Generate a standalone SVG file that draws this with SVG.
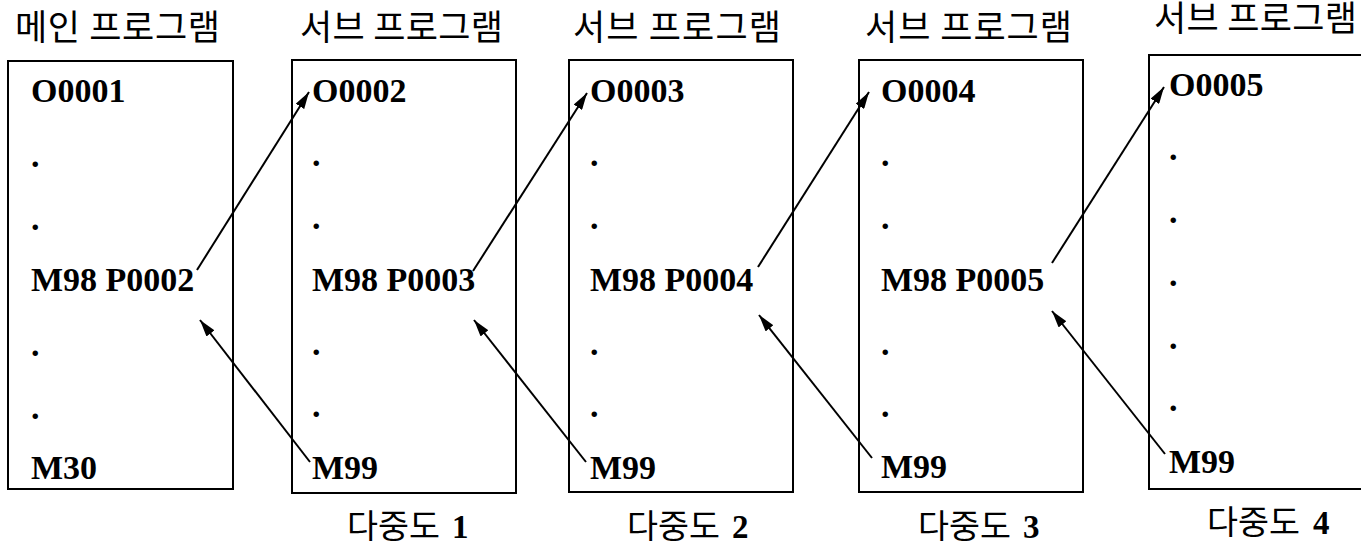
<svg xmlns="http://www.w3.org/2000/svg" width="1361" height="546" viewBox="0 0 1361 546">
<style>
.box{fill:#fff;stroke:#000;stroke-width:2}
.code{font-family:"Liberation Serif","Times New Roman",serif;font-weight:bold;font-size:34px;fill:#000}
.hdr{font-family:"Noto Sans CJK KR","Noto Sans",sans-serif;font-size:35px;fill:#000}
.lbl{font-family:"Noto Sans CJK KR","Noto Sans",sans-serif;font-size:33px;fill:#000}
.num{font-family:"Liberation Serif","Times New Roman",serif;font-weight:bold;font-size:33px}
.conn{stroke:#000;stroke-width:2;fill:none;marker-end:url(#ah)}
</style>
<defs>
<marker id="ah" markerUnits="userSpaceOnUse" markerWidth="17" markerHeight="10" refX="17" refY="5" orient="auto">
<path d="M0,0 L17,5 L0,10 z" fill="#000"/>
</marker>
</defs>
<rect width="1361" height="546" fill="#fff"/>

<g id="main">
<text class="hdr" x="15" y="40" textLength="205" lengthAdjust="spacing">메인 프로그램</text>
<rect class="box" x="8" y="61" width="225" height="428"/>
<text class="code" x="31" y="102">O0001</text>
<text class="code" x="31" y="167">.</text>
<text class="code" x="31" y="230">.</text>
<text class="code" x="31" y="291">M98 P0002</text>
<text class="code" x="31" y="356">.</text>
<text class="code" x="31" y="419">.</text>
<text class="code" x="31" y="479">M30</text>
</g>

<g id="sub1">
<text class="hdr" x="300" y="40" textLength="203" lengthAdjust="spacing">서브 프로그램</text>
<rect class="box" x="292" y="60" width="224" height="433"/>
<text class="code" x="312" y="102">O0002</text>
<text class="code" x="312" y="166">.</text>
<text class="code" x="312" y="229">.</text>
<text class="code" x="312" y="291">M98 P0003</text>
<text class="code" x="312" y="355">.</text>
<text class="code" x="312" y="417">.</text>
<text class="code" x="312" y="479">M99</text>
<text class="lbl" x="347" y="538"><tspan textLength="93" lengthAdjust="spacingAndGlyphs">다중도</tspan> <tspan class="num" x="452">1</tspan></text>
</g>

<g id="sub2">
<text class="hdr" x="573" y="40" textLength="208" lengthAdjust="spacing">서브 프로그램</text>
<rect class="box" x="569" y="60" width="224" height="432"/>
<text class="code" x="590" y="102">O0003</text>
<text class="code" x="590" y="166">.</text>
<text class="code" x="590" y="229">.</text>
<text class="code" x="590" y="291">M98 P0004</text>
<text class="code" x="590" y="355">.</text>
<text class="code" x="590" y="417">.</text>
<text class="code" x="590" y="479">M99</text>
<text class="lbl" x="627" y="538"><tspan textLength="93" lengthAdjust="spacingAndGlyphs">다중도</tspan> <tspan class="num" x="732">2</tspan></text>
</g>

<g id="sub3">
<text class="hdr" x="865" y="40" textLength="207" lengthAdjust="spacing">서브 프로그램</text>
<rect class="box" x="859" y="60" width="224" height="432"/>
<text class="code" x="881" y="102">O0004</text>
<text class="code" x="881" y="166">.</text>
<text class="code" x="881" y="229">.</text>
<text class="code" x="881" y="291">M98 P0005</text>
<text class="code" x="881" y="355">.</text>
<text class="code" x="881" y="417">.</text>
<text class="code" x="881" y="478">M99</text>
<text class="lbl" x="918" y="538"><tspan textLength="93" lengthAdjust="spacingAndGlyphs">다중도</tspan> <tspan class="num" x="1023">3</tspan></text>
</g>

<g id="sub4">
<text class="hdr" x="1154" y="31" textLength="203" lengthAdjust="spacing">서브 프로그램</text>
<rect class="box" x="1149" y="55" width="250" height="434"/>
<text class="code" x="1169" y="96">O0005</text>
<text class="code" x="1169" y="160">.</text>
<text class="code" x="1169" y="223">.</text>
<text class="code" x="1169" y="286">.</text>
<text class="code" x="1169" y="349">.</text>
<text class="code" x="1169" y="411">.</text>
<text class="code" x="1169" y="473">M99</text>
<text class="lbl" x="1207" y="534"><tspan textLength="93" lengthAdjust="spacingAndGlyphs">다중도</tspan> <tspan class="num" x="1313">4</tspan></text>
</g>

<g id="connectors">
<line class="conn" x1="197" y1="270" x2="309" y2="92"/>
<line class="conn" x1="473" y1="271" x2="587" y2="93"/>
<line class="conn" x1="758" y1="267" x2="869" y2="92"/>
<line class="conn" x1="1052" y1="263" x2="1164" y2="87"/>
<line class="conn" x1="310" y1="462" x2="200" y2="320"/>
<line class="conn" x1="586" y1="462" x2="474" y2="320"/>
<line class="conn" x1="872" y1="458" x2="759" y2="315"/>
<line class="conn" x1="1165" y1="454" x2="1052" y2="311"/>
</g>
</svg>
